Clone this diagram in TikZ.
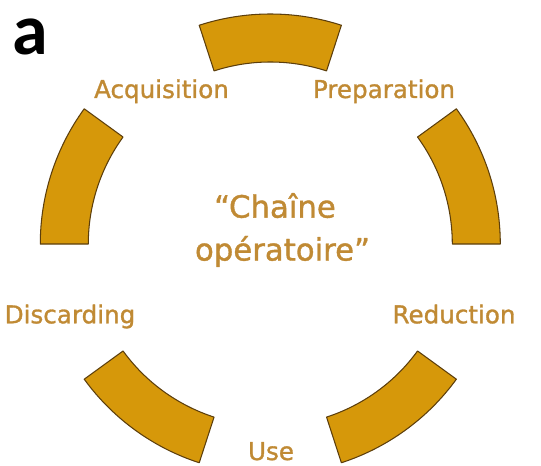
\documentclass[tikz,border=0pt]{standalone}
\usepackage{fontspec}
\setmainfont{DejaVu Sans}
\newfontfamily\panelfont{Carlito}
\newfontfamily\stagefont[FakeBold=1.2]{DejaVu Sans}
\definecolor{ochre}{RGB}{214,152,10}
\definecolor{ochreedge}{RGB}{92,62,12}
\definecolor{ochretext}{RGB}{192,138,52}

\begin{document}
\begin{tikzpicture}[line cap=round, line join=round,
  sector/.style={fill=ochre, draw=ochreedge, line width=0.6pt},
  stage/.style={anchor=base, text=ochretext, inner sep=0pt, font=\stagefont\fontsize{14}{17}\selectfont}]
  \useasboundingbox (-5.406,-4.44) rectangle (5.414,4.88);

  % Panel letter
  \node[anchor=base west, inner sep=0pt, font=\panelfont\bfseries\fontsize{41}{48}\selectfont] (panel) at (-5.17,3.78) {a};

  % Five ring sectors, 36 degrees each with 36 degree gaps
  \draw[sector] (72:3.64) arc[start angle=72, end angle=108, radius=3.64]
    -- (108:4.6) arc[start angle=108, end angle=72, radius=4.6] -- cycle;
  \draw[sector] (144:3.64) arc[start angle=144, end angle=180, radius=3.64]
    -- (180:4.6) arc[start angle=180, end angle=144, radius=4.6] -- cycle;
  \draw[sector] (216:3.64) arc[start angle=216, end angle=252, radius=3.64]
    -- (252:4.6) arc[start angle=252, end angle=216, radius=4.6] -- cycle;
  \draw[sector] (288:3.64) arc[start angle=288, end angle=324, radius=3.64]
    -- (324:4.6) arc[start angle=324, end angle=288, radius=4.6] -- cycle;
  \draw[sector] (0:3.64) arc[start angle=0, end angle=36, radius=3.64]
    -- (36:4.6) arc[start angle=36, end angle=0, radius=4.6] -- cycle;

  % Stage names round the ring
  \node[stage] (acquisition) at (-2.176,2.92) {Acquisition};
  \node[stage] (preparation) at (2.274,2.92) {Preparation};
  \node[stage] (reduction)   at (3.674,-1.586) {Reduction};
  \node[stage] (use)         at (0.014,-4.32) {Use};
  \node[stage] (discarding)  at (-4.006,-1.586) {Discarding};

  % Title in the middle
  \node[text=ochretext, align=center, inner sep=0pt,
        font=\stagefont\fontsize{17.5}{24.4}\selectfont] (chaine) at (0.094,0.28)
    {“Chaîne\\\hspace*{0.3cm}opératoire”};

\end{tikzpicture}
\end{document}
